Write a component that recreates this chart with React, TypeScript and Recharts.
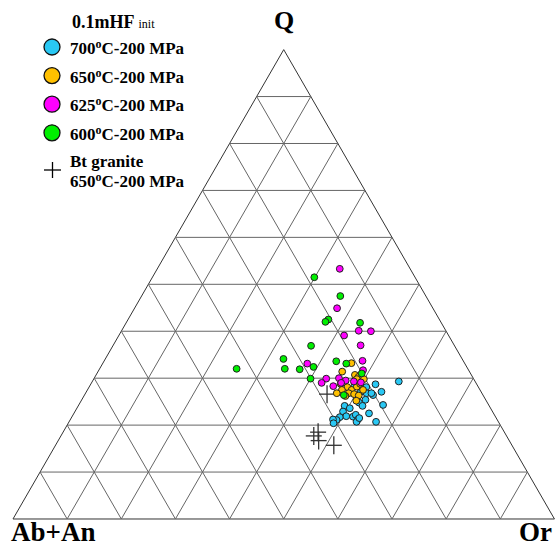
import { ScatterChart, Scatter, XAxis, YAxis, ReferenceLine, Customized } from 'recharts';

// ternary compositions: q = Q, or = Or (Ab+An = 100 - q - or)
const run700 = [
  { q: 29.3, or: 56.6 }, { q: 28.7, or: 52.6 }, { q: 27.1, or: 54.5 }, { q: 28.4, or: 48.9 },
  { q: 28.1, or: 51.2 }, { q: 26.4, or: 53.3 }, { q: 26.8, or: 51.9 }, { q: 25.4, or: 52.4 },
  { q: 24.3, or: 56.2 }, { q: 22.5, or: 54.5 }, { q: 20.7, or: 56.7 }, { q: 24.1, or: 49.2 },
  { q: 23.6, or: 50.4 }, { q: 22.9, or: 49.5 }, { q: 21.9, or: 50.6 }, { q: 21.7, or: 49.5 },
  { q: 21.1, or: 49.2 }, { q: 21.2, or: 48.5 }, { q: 20.4, or: 49.0 }, { q: 21.8, or: 51.9 },
  { q: 22.2, or: 52.2 }, { q: 21.2, or: 53.1 }, { q: 20.7, or: 53.1 }, { q: 26.8, or: 52.8 },
  { q: 27.1, or: 50.7 }, { q: 24.8, or: 51.5 }, { q: 24.1, or: 52.5 }, { q: 21.5, or: 53.2 },
];
const run650 = [
  { q: 33.2, or: 45.9 }, { q: 31.4, or: 45.1 }, { q: 30.7, or: 47.8 }, { q: 30.3, or: 48.7 },
  { q: 29.8, or: 49.9 }, { q: 29.8, or: 48.6 }, { q: 28.8, or: 46.1 }, { q: 28.1, or: 47.7 },
  { q: 27.5, or: 48.8 }, { q: 26.8, or: 48.6 }, { q: 26.6, or: 49.7 }, { q: 26.3, or: 50.7 },
  { q: 27.5, or: 50.9 }, { q: 28.2, or: 49.4 }, { q: 25.2, or: 50.8 }, { q: 27.5, or: 47.0 },
  { q: 26.2, or: 48.3 }, { q: 26.8, or: 46.4 }, { q: 28.8, or: 49.7 },
];
const run625 = [
  { q: 53.3, or: 33.7 }, { q: 44.9, or: 37.4 }, { q: 40.1, or: 43.8 }, { q: 40.0, or: 46.1 },
  { q: 39.1, or: 41.6 }, { q: 37.0, or: 45.7 }, { q: 33.7, or: 47.7 }, { q: 33.1, or: 37.8 },
  { q: 31.7, or: 48.8 }, { q: 29.9, or: 42.9 }, { q: 29.0, or: 42.5 }, { q: 28.3, or: 45.0 },
  { q: 30.0, or: 45.2 }, { q: 29.5, or: 46.7 }, { q: 29.3, or: 48.3 }, { q: 29.1, or: 49.7 },
  { q: 29.0, or: 46.1 },
];
const run600 = [
  { q: 51.5, or: 29.9 }, { q: 47.5, or: 36.7 }, { q: 42.5, or: 37.0 }, { q: 42.0, or: 36.7 },
  { q: 41.8, or: 43.2 }, { q: 36.9, or: 36.6 }, { q: 34.1, or: 32.9 }, { q: 32.0, or: 25.3 },
  { q: 32.0, or: 34.2 }, { q: 31.9, or: 37.0 }, { q: 32.4, or: 39.3 }, { q: 33.6, or: 42.9 },
  { q: 33.1, or: 45.0 }, { q: 29.9, or: 40.0 }, { q: 31.0, or: 48.9 }, { q: 26.4, or: 47.9 },
];
const btGranite = [
  { q: 26.6, or: 44.7 }, { q: 18.5, or: 47.1 }, { q: 17.7, or: 46.7 }, { q: 16.7, or: 48.1 },
  { q: 15.7, or: 51.4 },
];

const gridTicks = [0, 10, 20, 30, 40, 50, 60, 70, 80, 90];
const legendRows = [
  { t: '700', color: '#29c8f4' },
  { t: '650', color: '#ffc000' },
  { t: '625', color: '#ff00ff' },
  { t: '600', color: '#00f000' },
];

const toXY = (p: { q: number; or: number }) => ({ x: p.or + p.q / 2, y: p.q });

const SERIF = '"Liberation Serif", "DejaVu Serif", serif';

const Dot = (color: string) => (props: any) => (
  <circle cx={props.cx} cy={props.cy} r={3.4} fill={color} stroke="#222" strokeWidth={1} />
);

const Cross = (props: any) => (
  <g stroke="#333" strokeWidth={1.3}>
    <line x1={props.cx - 8} y1={props.cy} x2={props.cx + 8} y2={props.cy} />
    <line x1={props.cx} y1={props.cy - 9} x2={props.cx} y2={props.cy + 9} />
  </g>
);

const Labels = () => (
  <g fontFamily={SERIF} fill="#000">
    <text x={284} y={29} fontSize={26} fontWeight="bold" textAnchor="middle">Q</text>
    <text x={11} y={541} fontSize={27} fontWeight="bold">Ab+An</text>
    <text x={519} y={541} fontSize={27} fontWeight="bold">Or</text>
    <text x={72} y={28} fontSize={18} fontWeight="bold">
      0.1mHF<tspan fontSize={12} fontWeight="normal" dx={4}>init</tspan>
    </text>
    {legendRows.map((r, i) => (
      <g key={r.t}>
        <circle cx={52} cy={47 + i * 28.6} r={8} fill={r.color} stroke="#111" strokeWidth={1.3} />
        <text x={70} y={54 + i * 28.6} fontSize={17} fontWeight="bold">
          {r.t}
          <tspan fontSize={12} dy={-6}>o</tspan>
          <tspan dy={6}>C-200 MPa</tspan>
        </text>
      </g>
    ))}
    <line x1={44} y1={170} x2={61} y2={170} stroke="#000" strokeWidth={1.3} />
    <line x1={52.5} y1={162} x2={52.5} y2={178} stroke="#000" strokeWidth={1.3} />
    <text x={70} y={167} fontSize={17} fontWeight="bold">Bt granite</text>
    <text x={70} y={187} fontSize={17} fontWeight="bold">
      650<tspan fontSize={12} dy={-6}>o</tspan>
      <tspan dy={6}>C-200 MPa</tspan>
    </text>
  </g>
);

export default function App() {
  const lines: { a: { x: number; y: number }; b: { x: number; y: number } }[] = [];
  gridTicks.forEach((c) => {
    // constant Q
    lines.push({ a: { x: c / 2, y: c }, b: { x: 100 - c / 2, y: c } });
    // constant Or
    lines.push({ a: { x: c, y: 0 }, b: { x: c + (100 - c) / 2, y: 100 - c } });
    // constant Ab+An
    lines.push({ a: { x: 100 - c, y: 0 }, b: { x: (100 - c) / 2, y: 100 - c } });
  });

  return (
    <div style={{ position: 'absolute', left: 0, top: 0, width: 555, height: 548, background: '#fff' }}>
      <ScatterChart width={555} height={548} margin={{ top: 0, right: 0, bottom: 0, left: 0 }}>
        <XAxis type="number" dataKey="x" hide domain={[-2.4, 100.1]} allowDataOverflow />
        <YAxis type="number" dataKey="y" hide domain={[-6.18, 110.57]} allowDataOverflow />
        {lines.map((l, i) => (
          <ReferenceLine
            key={i}
            segment={[l.a, l.b]}
            stroke={i < 3 ? '#333' : '#666'}
            strokeWidth={1}
            ifOverflow="visible"
          />
        ))}
        <Scatter data={btGranite.map(toXY)} shape={Cross} isAnimationActive={false} />
        <Scatter data={run700.map(toXY)} shape={Dot('#29c8f4')} isAnimationActive={false} />
        <Scatter data={run650.map(toXY)} shape={Dot('#ffc000')} isAnimationActive={false} />
        <Scatter data={run625.map(toXY)} shape={Dot('#ff00ff')} isAnimationActive={false} />
        <Scatter data={run600.map(toXY)} shape={Dot('#00f000')} isAnimationActive={false} />
        <Customized component={Labels} />
      </ScatterChart>
    </div>
  );
}
